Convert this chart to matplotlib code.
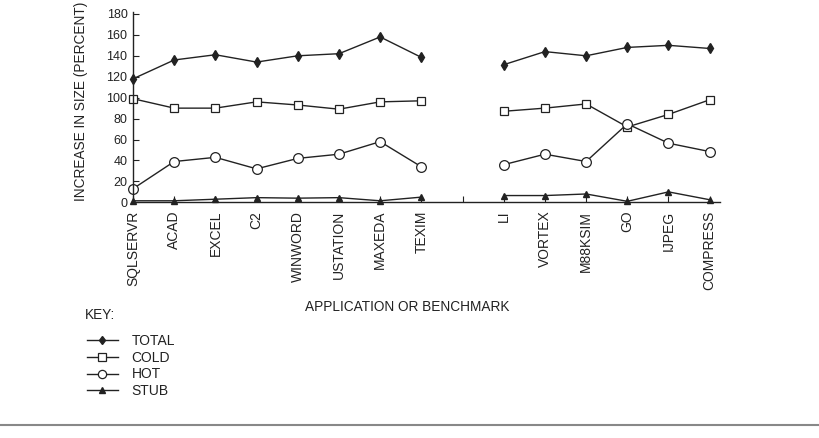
#!/usr/bin/env python3

import numpy as np
import matplotlib
matplotlib.use('Agg')
import matplotlib.pyplot as plt
import matplotlib.ticker as ticker
from matplotlib.lines import Line2D

plt.rcParams['font.family'] = ['Liberation Sans', 'DejaVu Sans']

# benchmarks; the empty slot is the gap between the two groups
programs = ['SQLSERVR', 'ACAD', 'EXCEL', 'C2', 'WINWORD', 'USTATION', 'MAXEDA', 'TEXIM',
            '',
            'LI', 'VORTEX', 'M88KSIM', 'GO', 'IJPEG', 'COMPRESS']
nan = np.nan
total = [118, 136, 141, 134, 140, 142, 158, 138.5, nan, 131.5, 144, 140, 148, 150, 147]
cold = [99, 90, 90, 96, 93, 89, 96, 97, nan, 87, 90, 94, 72, 84, 98]
hot = [13, 39, 43, 32, 42, 46, 58, 34, nan, 36, 46, 39, 75, 56.5, 48.5]
stub = [1.5, 1.5, 3, 4.5, 4, 4.5, 1.5, 5, nan, 6.5, 6.5, 8, 1, 10, 2.5]
yticks = [0, 20, 40, 60, 80, 100, 120, 140, 160, 180]

ink = '#222222'
x = np.arange(len(programs))

fig = plt.figure(figsize=(8.19, 4.38), dpi=100)
ax = fig.add_axes([0.1624, 0.538, 0.7167, 0.435])

style = dict(color=ink, lw=1.0, clip_on=False)
ax.plot(x, total, marker='d', ms=5, mfc=ink, mec=ink, label='TOTAL', **style)
ax.plot(x, cold, marker='s', ms=6, mfc='white', mec=ink, mew=0.9, label='COLD', **style)
ax.plot(x, hot, marker='o', ms=7, mfc='white', mec=ink, mew=0.9, label='HOT', **style)
ax.plot(x, stub, marker='^', ms=4.5, mfc=ink, mec=ink, label='STUB', **style)

ax.set_xlim(0, 14.25)
ax.set_ylim(0, 182)
ax.set_xticks(x)
ax.set_xticklabels(programs, rotation=90, fontsize=10, color=ink)
ax.yaxis.set_major_locator(ticker.FixedLocator(yticks))
ax.tick_params(axis='y', direction='in', length=4, labelsize=9, labelcolor=ink, color=ink, pad=4)
ax.tick_params(axis='x', direction='in', length=4, color=ink, pad=6)

for side in ['top', 'right']:
    ax.spines[side].set_visible(False)
for side in ['left', 'bottom']:
    ax.spines[side].set_color(ink)
    ax.spines[side].set_linewidth(1.0)

ax.set_ylabel('INCREASE IN SIZE (PERCENT)', fontsize=9.8, color=ink)
ax.yaxis.set_label_coords(-0.077, 0.53)
ax.set_xlabel('APPLICATION OR BENCHMARK', fontsize=9.8, color=ink)
ax.xaxis.set_label_coords(0.468, -0.51)

# key below the chart
fig.text(85 / 819, 1 - 315 / 438, 'KEY:', fontsize=9.8, color=ink, va='center', ha='left')
ax.legend(loc='upper left', bbox_to_anchor=(80 / 819, 1 - 327 / 438),
          bbox_transform=fig.transFigure, frameon=False, fontsize=10,
          handlelength=2.2, handletextpad=1.0, labelspacing=0.2, borderpad=0,
          markerscale=0.85, labelcolor=ink)

# rule across the bottom of the page
fig.add_artist(Line2D([0, 1], [13 / 438, 13 / 438], transform=fig.transFigure,
                      color='#888888', lw=1.5))

plt.savefig('out.png', dpi=100)
